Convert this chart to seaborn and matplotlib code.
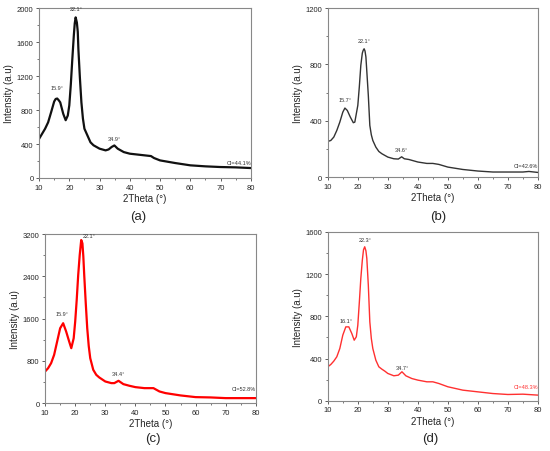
import matplotlib
matplotlib.use("Agg")
import matplotlib.pyplot as plt
import seaborn as sns
import pandas as pd
from matplotlib.ticker import MultipleLocator

# XRD patterns, one array pair per sample
a_theta = [10, 11, 12, 13, 14, 15, 15.5, 16, 16.5, 17, 18, 18.8, 19.5, 20, 20.5, 21, 21.5, 21.8, 22.1, 22.5, 22.8, 23, 23.5, 24, 24.5, 25, 26, 27, 28,
           30, 32, 33, 34, 34.9, 36, 38, 40, 43, 45, 47, 48, 50, 55, 60, 65, 70, 75, 80]
a_int = [460, 520, 580, 655, 775, 900, 930, 935, 915, 890, 755, 680, 735, 855, 1100, 1400, 1680, 1820, 1890, 1830, 1720, 1520, 1180, 890, 700, 580, 500, 420, 385,
         345, 325, 336, 365, 383, 345, 305, 286, 274, 266, 258, 235, 207, 176, 149, 137, 129, 125, 117]

b_theta = [10, 11, 12, 13, 14, 15, 15.7, 16.5, 17.5, 18.5, 19, 20, 20.5, 21, 21.5, 21.8, 22.1, 22.4, 22.7, 23.5, 24, 24.5, 25, 26, 27, 28,
           30, 32, 33.5, 34.6, 35.5, 37, 40, 43, 45, 47, 50, 55, 60, 65, 70, 75, 77, 80]
b_int = [253, 260, 284, 331, 390, 461, 490, 473, 426, 386, 390, 509, 640, 793, 880, 900, 911, 895, 852, 580, 367, 300, 260, 213, 182, 166,
         142, 130, 128, 144, 130, 125, 107, 97, 97, 90, 71, 54, 43, 36, 36, 36, 40, 33]

c_theta = [10, 11, 12, 13, 14, 15, 16, 17, 18, 18.7, 19.5, 20, 20.5, 21, 21.5, 22, 22.4, 22.7, 23, 23.5, 24, 24.5, 25, 26, 27, 28,
           30, 32, 33, 34.4, 36, 38, 40, 43, 46, 48, 50, 55, 60, 65, 70, 75, 80]
c_int = [598, 661, 756, 913, 1165, 1417, 1512, 1354, 1165, 1039, 1228, 1543, 1950, 2425, 2800, 3087, 3024, 2780, 2425, 1900, 1417, 1080, 850, 630, 535, 485,
         409, 378, 378, 422, 359, 328, 302, 283, 283, 220, 189, 145, 113, 107, 94, 94, 94]

d_theta = [10, 11, 12, 13, 14, 15, 16, 17, 18, 18.8, 19.5, 20, 20.5, 21, 21.5, 21.9, 22.3, 22.7, 23, 23.5, 24, 24.5, 25, 26, 27, 28, 29,
           30, 32, 33.5, 34.7, 36, 38, 40, 43, 45, 47, 50, 55, 60, 65, 70, 75, 80]
d_int = [322, 344, 376, 417, 495, 622, 700, 700, 637, 574, 606, 716, 930, 1158, 1330, 1430, 1458, 1420, 1348, 1095, 748, 590, 495, 385, 322, 300, 281,
         259, 237, 243, 275, 237, 211, 196, 180, 180, 164, 133, 101, 85, 69, 60, 63, 54]

panels = [
    dict(x=a_theta, y=a_int, color="#111111", lw=1.6, ymax=2000, step=400, left=0.071, bottom=0.604, w=0.385, h=0.376,
         peaks=[(15.9, 1030, "15.9°"), (22.3, 1960, "22.1°"), (34.9, 440, "34.9°")], ci=(76, 150, "CI=44.1%", "#333333"),
         tag="(a)", tagpos=(0.251, 0.520)),
    dict(x=b_theta, y=b_int, color="#333333", lw=1.0, ymax=1200, step=400, left=0.596, bottom=0.606, w=0.382, h=0.374,
         peaks=[(15.7, 530, "15.7°"), (22.1, 950, "22.1°"), (34.6, 180, "34.6°")], ci=(76, 65, "CI=42.6%", "#333333"),
         tag="(b)", tagpos=(0.796, 0.520)),
    dict(x=c_theta, y=c_int, color="#ff0000", lw=1.6, ymax=3200, step=800, left=0.082, bottom=0.106, w=0.383, h=0.374,
         peaks=[(15.5, 1650, "15.9°"), (24.6, 3130, "22.1°"), (34.4, 510, "34.4°")], ci=(76, 230, "CI=52.8%", "#333333"),
         tag="(c)", tagpos=(0.278, 0.029)),
    dict(x=d_theta, y=d_int, color="#ff3030", lw=1.0, ymax=1600, step=400, left=0.596, bottom=0.111, w=0.382, h=0.374,
         peaks=[(16.0, 740, "16.1°"), (22.3, 1500, "22.3°"), (34.7, 290, "34.7°")], ci=(76, 110, "CI=48.3%", "#ff3030"),
         tag="(d)", tagpos=(0.782, 0.029)),
]

sns.set_style("white")
plt.rcParams['font.family'] = ['Liberation Sans', 'DejaVu Sans']

fig = plt.figure(figsize=(5.5, 4.52), dpi=100)

for p in panels:
    ax = fig.add_axes([p["left"], p["bottom"], p["w"], p["h"]])
    df = pd.DataFrame({"theta": p["x"], "intensity": p["y"]})
    sns.lineplot(data=df, x="theta", y="intensity", ax=ax, color=p["color"], linewidth=p["lw"])
    ax.set_xlim(10, 80)
    ax.set_ylim(0, p["ymax"])
    ax.xaxis.set_major_locator(MultipleLocator(10))
    ax.xaxis.set_minor_locator(MultipleLocator(5))
    ax.yaxis.set_major_locator(MultipleLocator(p["step"]))
    ax.yaxis.set_minor_locator(MultipleLocator(p["step"] / 2))
    ax.tick_params(which="major", length=2.5, width=0.6, labelsize=5.5, pad=1.5, color="#444444", direction="out")
    ax.tick_params(which="minor", length=1.5, width=0.5, color="#444444", direction="out")
    ax.tick_params(bottom=True, left=True, which="both")
    for s in ax.spines.values():
        s.set_color("#888888")
        s.set_linewidth(0.8)
    ax.set_xlabel("2Theta (°)", fontsize=7, labelpad=2)
    ax.set_ylabel("Intensity (a.u)", fontsize=7, labelpad=2)
    for px, py, txt in p["peaks"]:
        ax.text(px, py, txt, fontsize=4, ha="center", va="bottom", color="#333333")
    cx, cy, ctxt, ccol = p["ci"]
    ax.text(cx, cy, ctxt, fontsize=4, ha="center", va="bottom", color=ccol)
    fig.text(p["tagpos"][0], p["tagpos"][1], p["tag"], fontsize=9.5, ha="center", va="center")

fig.savefig("out.png", dpi=100)
